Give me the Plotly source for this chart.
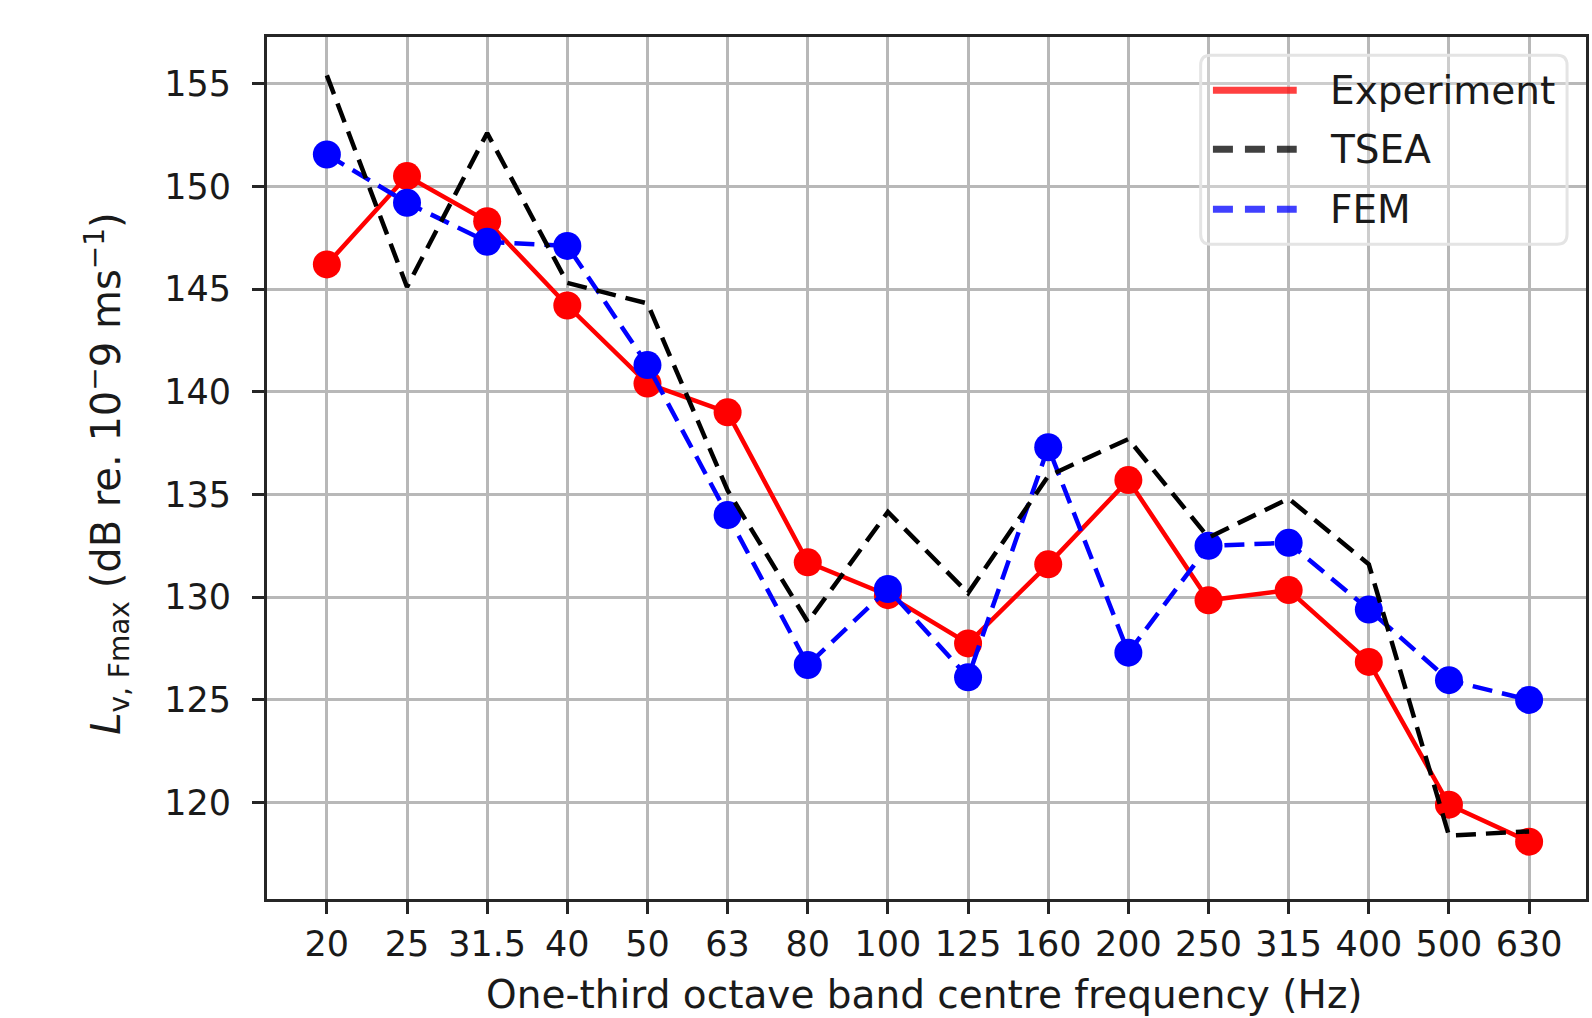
import plotly.graph_objects as go

# ---- data ----
freq_labels = ["20", "25", "31.5", "40", "50", "63", "80", "100", "125",
               "160", "200", "250", "315", "400", "500", "630"]
experiment = [146.2, 150.5, 148.3, 144.2, 140.4, 139.0, 131.7, 130.1, 127.75,
              131.6, 135.7, 129.85, 130.35, 126.85, 119.9, 118.1]
tsea = [155.4, 145.1, 152.6, 145.3, 144.3, 135.2, 128.8, 134.15, 130.2,
        135.9, 137.7, 132.9, 134.8, 131.6, 118.4, 118.6]
fem = [151.55, 149.2, 147.3, 147.1, 141.3, 134.0, 126.7, 130.4, 126.1,
       137.3, 127.3, 132.5, 132.65, 129.4, 125.96, 125.0]
y_ticks = [120, 125, 130, 135, 140, 145, 150, 155]
series_names = ["Experiment", "TSEA", "FEM"]

# ---- layout geometry ----
FIG_W, FIG_H = 1592, 1018
ML, MR, MT, MB = 266.7, 3, 36.7, 119
W = FIG_W - ML - MR
H = FIG_H - MT - MB
FONT = "DejaVu Sans"
TXT = "#1a1a1a"
SPINE = "#262626"
GRID = "#b8b8b8"


def px2x(px):
    return (px - ML) / W


def py2y(py):
    return (FIG_H - MB - py) / H


fig = go.Figure()
fig.add_trace(go.Scatter(x=freq_labels, y=experiment, mode="lines+markers",
                         line=dict(color="#ff0000", width=4.5),
                         marker=dict(color="#ff0000", size=28),
                         showlegend=False, name="Experiment"))
fig.add_trace(go.Scatter(x=freq_labels, y=fem, mode="lines+markers",
                         line=dict(color="#0000ff", width=4.5, dash="20px,10px"),
                         marker=dict(color="#0000ff", size=28),
                         showlegend=False, name="FEM"))
fig.add_trace(go.Scatter(x=freq_labels, y=tsea, mode="lines",
                         line=dict(color="#000000", width=4.5, dash="20px,10px"),
                         showlegend=False, name="TSEA"))

# ---- manual legend (matplotlib style) ----
shapes = []
annotations = []
bx0, bx1, by0, by1 = 1202.7, 1570, 55, 244
r = 10
path = (f"M {px2x(bx0 + r)},{py2y(by0)} L {px2x(bx1 - r)},{py2y(by0)} "
        f"Q {px2x(bx1)},{py2y(by0)} {px2x(bx1)},{py2y(by0 + r)} "
        f"L {px2x(bx1)},{py2y(by1 - r)} "
        f"Q {px2x(bx1)},{py2y(by1)} {px2x(bx1 - r)},{py2y(by1)} "
        f"L {px2x(bx0 + r)},{py2y(by1)} "
        f"Q {px2x(bx0)},{py2y(by1)} {px2x(bx0)},{py2y(by1 - r)} "
        f"L {px2x(bx0)},{py2y(by0 + r)} "
        f"Q {px2x(bx0)},{py2y(by0)} {px2x(bx0 + r)},{py2y(by0)} Z")
shapes.append(dict(type="path", path=path, xref="paper", yref="paper",
                   line=dict(color="#e4e4e4", width=3),
                   fillcolor="rgba(255,255,255,0.3)", layer="above"))
leg_rows = [90, 149, 209]
leg_colors = ["rgba(255,0,0,0.75)", "rgba(0,0,0,0.75)", "rgba(0,0,255,0.75)"]
leg_dash = ["solid", "20px,12px", "20px,12px"]
for name, ry, col, dsh in zip(series_names, leg_rows, leg_colors, leg_dash):
    shapes.append(dict(type="line", xref="paper", yref="paper",
                       x0=px2x(1215), x1=px2x(1299), y0=py2y(ry), y1=py2y(ry),
                       line=dict(color=col, width=7, dash=dsh), layer="above"))
    annotations.append(dict(text=name, xref="paper", yref="paper",
                            x=px2x(1330), y=py2y(ry), xanchor="left",
                            yanchor="middle", showarrow=False,
                            font=dict(family=FONT, size=39, color=TXT)))

# ---- axis titles ----
annotations.append(dict(
    text="<i>L</i><sub>v, Fmax</sub> (dB re. 10<sup>\u2212</sup>9 ms<sup>\u22121</sup>)",
    xref="paper", yref="paper", x=px2x(106), y=py2y(474), textangle=-90,
    xanchor="center", yanchor="middle", showarrow=False,
    font=dict(family=FONT, size=40, color=TXT)))
annotations.append(dict(
    text="One-third octave band centre frequency (Hz)",
    xref="paper", yref="paper", x=px2x(926), y=py2y(995),
    xanchor="center", yanchor="middle", showarrow=False,
    font=dict(family=FONT, size=39, color=TXT)))

fig.update_layout(
    width=FIG_W, height=FIG_H,
    margin=dict(l=ML, r=MR, t=MT, b=MB, pad=0),
    paper_bgcolor="white", plot_bgcolor="white",
    font=dict(family=FONT, color=TXT),
    shapes=shapes, annotations=annotations,
    showlegend=False,
)
fig.update_xaxes(type="category", categoryorder="array", categoryarray=freq_labels,
                 range=[-0.747, -0.747 + W / 80.35],
                 tickmode="array", tickvals=freq_labels, ticktext=freq_labels,
                 tickangle=0, tickfont=dict(family=FONT, size=35, color=TXT),
                 showgrid=True, gridcolor=GRID, gridwidth=3,
                 showline=True, linecolor=SPINE, linewidth=3, mirror=True,
                 ticks="outside", ticklen=12, tickwidth=3, tickcolor=SPINE,
                 zeroline=False)
fig.update_yaxes(range=[115.31, 157.27], tickmode="array", tickvals=y_ticks,
                 tickfont=dict(family=FONT, size=35, color=TXT),
                 showgrid=True, gridcolor=GRID, gridwidth=3,
                 showline=True, linecolor=SPINE, linewidth=3, mirror=True,
                 ticks="outside", ticklen=12, tickwidth=3, tickcolor=SPINE,
                 ticklabelstandoff=14, zeroline=False)

fig.write_html("out.html")
